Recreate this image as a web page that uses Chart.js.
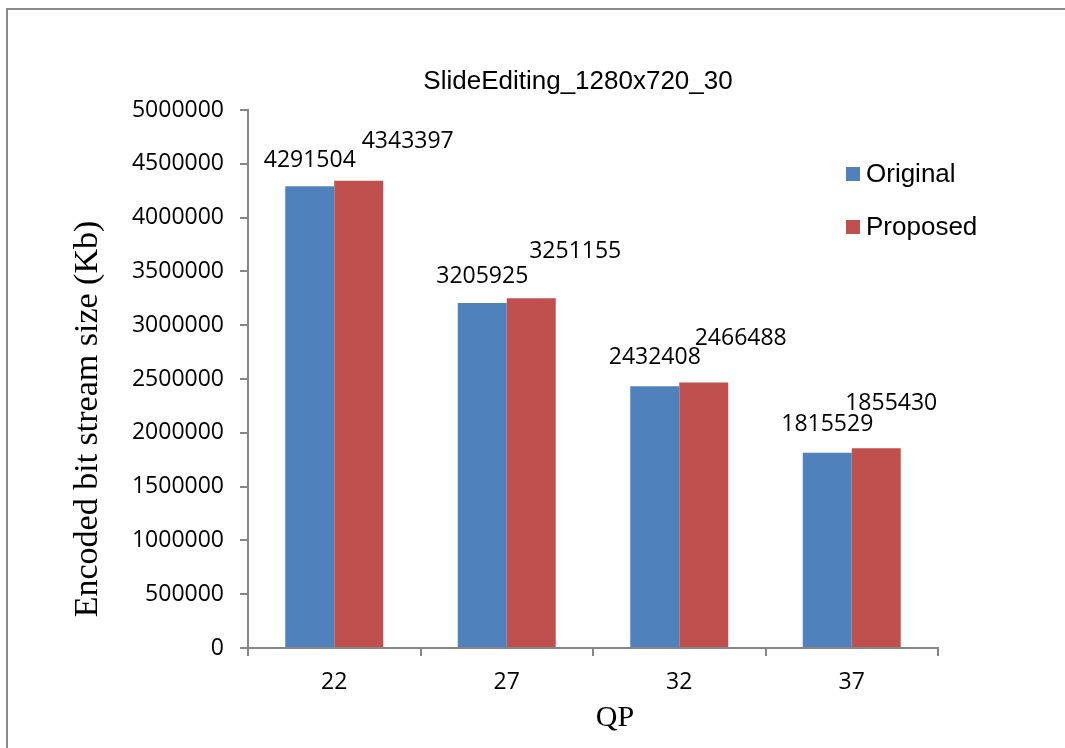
<!DOCTYPE html>
<html>
<head>
<meta charset="utf-8">
<script src="https://cdn.jsdelivr.net/npm/chart.js@4.4.1/dist/chart.umd.min.js"></script>
<style>
  html, body { margin: 0; padding: 0; background: #ffffff; }
  #wrap { width: 1065px; height: 748px; position: relative; }
</style>
</head>
<body>
<div id="wrap"><canvas id="chart" width="1065" height="748"></canvas></div>
<script>
// QP settings on the x axis
const categories = ['22', '27', '32', '37'];
// Encoded bit stream size per QP
const originalValues = [4291504, 3205925, 2432408, 1815529];
const proposedValues = [4343397, 3251155, 2466488, 1855430];
const seriesNames = ['Original', 'Proposed'];
const chartTitle = 'SlideEditing_1280x720_30';
const yAxisTitle = 'Encoded bit stream size (Kb)';
const xAxisTitle = 'QP';

const BLUE = '#4F81BD';
const RED = '#C0504D';
const AXIS = '#868686';
const TICK_FONT = { family: '"Open Sans", sans-serif', size: 23 };

// Value-label placement relative to each bar top (dx, dy in px)
const labelOffsets = [
  { dx: [0, 0, 0, 0], dy: [26, 27, 29, 28] },
  { dx: [49, 44, 37, 15], dy: [39, 47, 44, 45] }
];

const decorPlugin = {
  id: 'decor',
  beforeDraw(chart) {
    const ctx = chart.ctx;
    ctx.save();
    ctx.fillStyle = '#ffffff';
    ctx.fillRect(0, 0, chart.width, chart.height);
    // frame
    ctx.strokeStyle = '#8a8a8a';
    ctx.lineWidth = 2;
    ctx.beginPath();
    ctx.moveTo(7, chart.height);
    ctx.lineTo(7, 9);
    ctx.lineTo(chart.width, 9);
    ctx.stroke();
    ctx.restore();
  },
  afterDraw(chart) {
    const ctx = chart.ctx;
    ctx.save();
    ctx.fillStyle = '#000000';
    // title
    ctx.font = '26px "Liberation Sans", Arial, sans-serif';
    ctx.textAlign = 'center';
    ctx.textBaseline = 'middle';
    ctx.fillText(chartTitle, 578, 82);

    // axis titles
    ctx.font = '30px "Liberation Serif", "Times New Roman", serif';
    ctx.fillText(xAxisTitle, 615, 718);
    ctx.save();
    ctx.font = '34px "Liberation Serif", "Times New Roman", serif';
    ctx.translate(88, 419);
    ctx.rotate(-Math.PI / 2);
    ctx.fillText(yAxisTitle, 0, 0);
    ctx.restore();

    // legend
    ctx.font = '26px "Liberation Sans", Arial, sans-serif';
    ctx.textAlign = 'left';
    chart.data.datasets.forEach((ds, i) => {
      const y = 174 + i * 53;
      ctx.fillStyle = ds.backgroundColor;
      ctx.fillRect(846, y - 7, 14, 14);
      ctx.fillStyle = '#000000';
      ctx.fillText(ds.label, 866, y + 1);
    });

    // value labels
    ctx.font = '23px "Open Sans", sans-serif';
    ctx.textAlign = 'center';
    ctx.textBaseline = 'middle';
    chart.data.datasets.forEach((ds, i) => {
      const meta = chart.getDatasetMeta(i);
      meta.data.forEach((bar, j) => {
        const off = labelOffsets[i];
        ctx.fillText(String(ds.data[j]), bar.x + off.dx[j], bar.y - off.dy[j]);
      });
    });
    ctx.restore();
  }
};

new Chart(document.getElementById('chart'), {
  type: 'bar',
  data: {
    labels: categories,
    datasets: [
      { label: seriesNames[0], data: originalValues, backgroundColor: BLUE, borderWidth: 0 },
      { label: seriesNames[1], data: proposedValues, backgroundColor: RED, borderWidth: 0 }
    ]
  },
  options: {
    responsive: false,
    animation: false,
    devicePixelRatio: 1,
    layout: { padding: { left: 0, top: 110, right: 127, bottom: 0 } },
    plugins: {
      legend: { display: false },
      title: { display: false },
      tooltip: { enabled: false }
    },
    datasets: { bar: { categoryPercentage: 0.568, barPercentage: 1.0 } },
    scales: {
      x: {
        afterFit(scale) { scale.height = 100; },
        grid: { offset: true, drawOnChartArea: false, drawTicks: true, tickLength: 8, color: AXIS, lineWidth: 2 },
        border: { display: true, color: AXIS, width: 2 },
        ticks: { color: '#000000', font: TICK_FONT, padding: 13 }
      },
      y: {
        min: 0,
        max: 5000000,
        afterFit(scale) { scale.width = 248; },
        grid: { drawOnChartArea: false, drawTicks: true, tickLength: 8, color: AXIS, lineWidth: 2 },
        border: { display: true, color: AXIS, width: 2 },
        ticks: {
          stepSize: 500000,
          color: '#000000',
          font: TICK_FONT,
          padding: 16,
          callback: (v) => String(v)
        }
      }
    }
  },
  plugins: [decorPlugin]
});
</script>
</body>
</html>
